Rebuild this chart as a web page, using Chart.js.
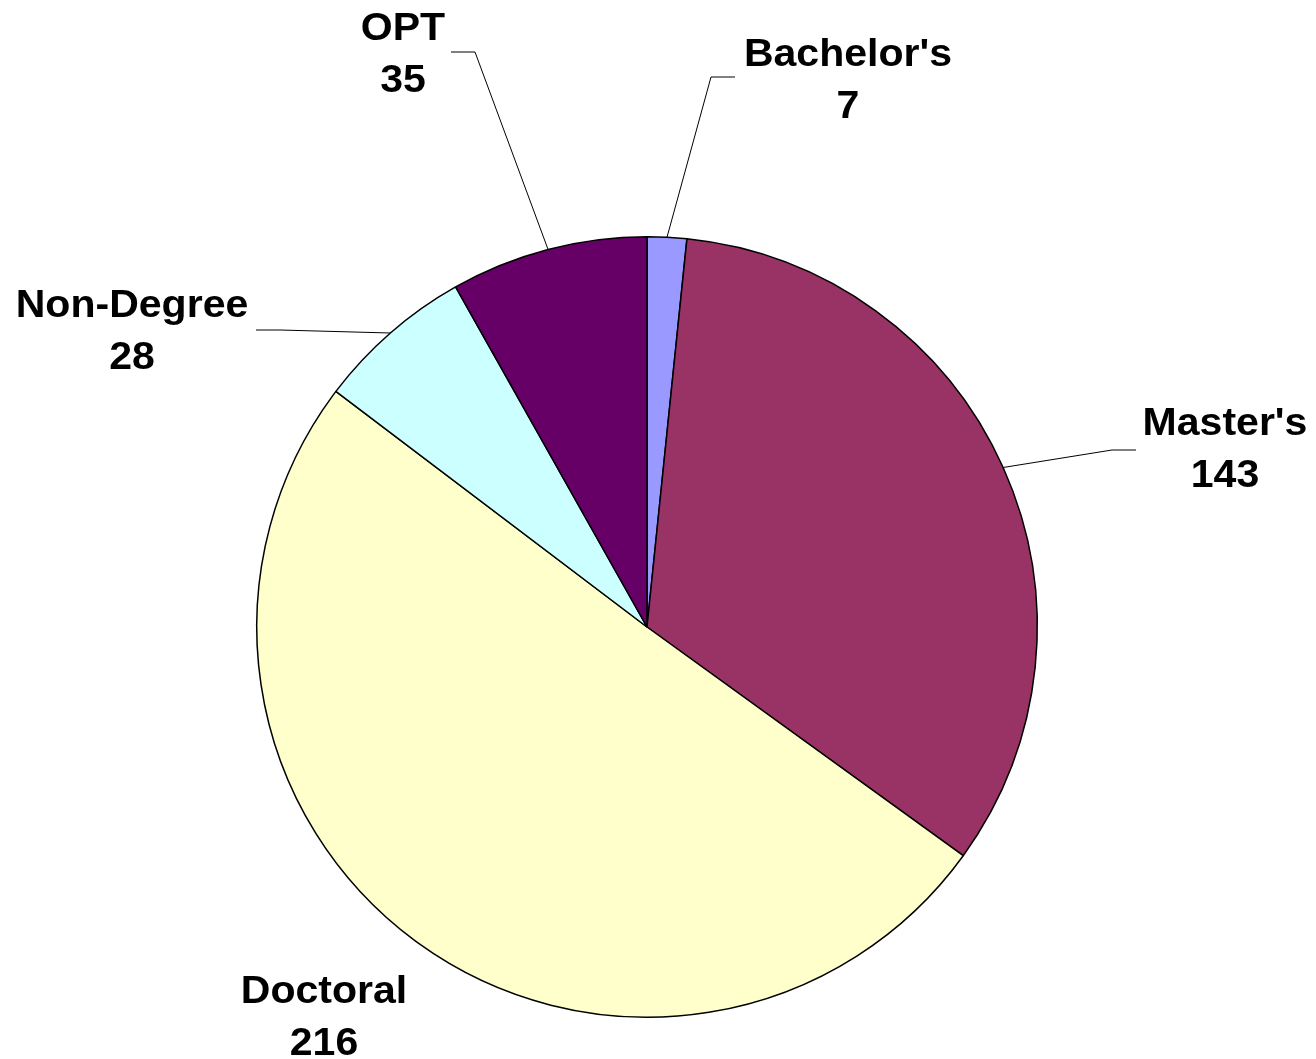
<!DOCTYPE html>
<html>
<head>
<meta charset="utf-8">
<script src="https://cdn.jsdelivr.net/npm/chart.js@4/dist/chart.umd.min.js"></script>
<style>
  html, body { margin: 0; padding: 0; background: #fff; }
  #wrap { width: 1316px; height: 1059px; position: relative; }
</style>
</head>
<body>
<div id="wrap"><canvas id="pie"></canvas></div>
<script>
// data
const categories = ["Bachelor's", "Master's", "Doctoral", "Non-Degree", "OPT"];
const counts = [7, 143, 216, 28, 35];

const sliceColors = ['#9999FF', '#993366', '#FFFFCC', '#CCFFFF', '#660066'];

// label layout, px relative to the pie centre: text = first baseline, elbow/end of the leader line
const labelLayout = [
    { text: [201, -561], elbow: [64, -550], end: [88, -550] },
    { text: [578, -192], elbow: [465, -177], end: [489, -177] },
    { text: [-323, 376], elbow: null, end: null },
    { text: [-515, -310], elbow: [-367, -297], end: [-391, -297] },
    { text: [-244, -587], elbow: [-172, -575], end: [-196, -575] },
]

const labelPlugin = {
    id: 'sliceLabels',
    afterDatasetsDraw(chart) {
        const ctx = chart.ctx
        const arcs = chart.getDatasetMeta(0).data
        ctx.save()
        arcs.forEach((arc, i) => {
            const cx = arc.x, cy = arc.y
            const lay = labelLayout[i]
            if (lay.elbow) {
                const mid = (arc.startAngle + arc.endAngle) / 2
                const sx = cx + Math.cos(mid) * arc.outerRadius
                const sy = cy + Math.sin(mid) * arc.outerRadius
                ctx.beginPath()
                ctx.moveTo(sx, sy)
                ctx.lineTo(cx + lay.elbow[0], cy + lay.elbow[1])
                ctx.lineTo(cx + lay.end[0], cy + lay.end[1])
                ctx.strokeStyle = '#000'
                ctx.lineWidth = 1
                ctx.stroke()
            }
            ctx.fillStyle = '#000'
            ctx.font = 'bold 38px "Liberation Sans", Arial, sans-serif'
            ctx.textAlign = 'center'
            ctx.textBaseline = 'alphabetic'
            const lines = [categories[i], String(counts[i])]
            lines.forEach((t, k) => {
                ctx.save()
                ctx.translate(cx + lay.text[0], cy + lay.text[1] + k * 52)
                ctx.scale(1.08, 1)
                ctx.fillText(t, 0, 0)
                ctx.restore()
            })
        })
        ctx.restore()
    }
}

const pieConfig = {
    type: 'pie',
    data: {
        labels: categories,
        datasets: [{
            data: counts,
            backgroundColor: sliceColors,
            borderColor: '#000',
            borderWidth: 1.5,
        }],
    },
    options: {
        responsive: true,
        maintainAspectRatio: false,
        animation: false,
        layout: {
            padding: { left: 256, right: 278, top: 236, bottom: 41 },
        },
        plugins: {
            legend: { display: false },
            tooltip: { enabled: false },
        },
    },
    plugins: [labelPlugin],
}

const pieCtx = document.getElementById('pie')
window.myPie = new Chart(pieCtx, pieConfig)
</script>
</body>
</html>
